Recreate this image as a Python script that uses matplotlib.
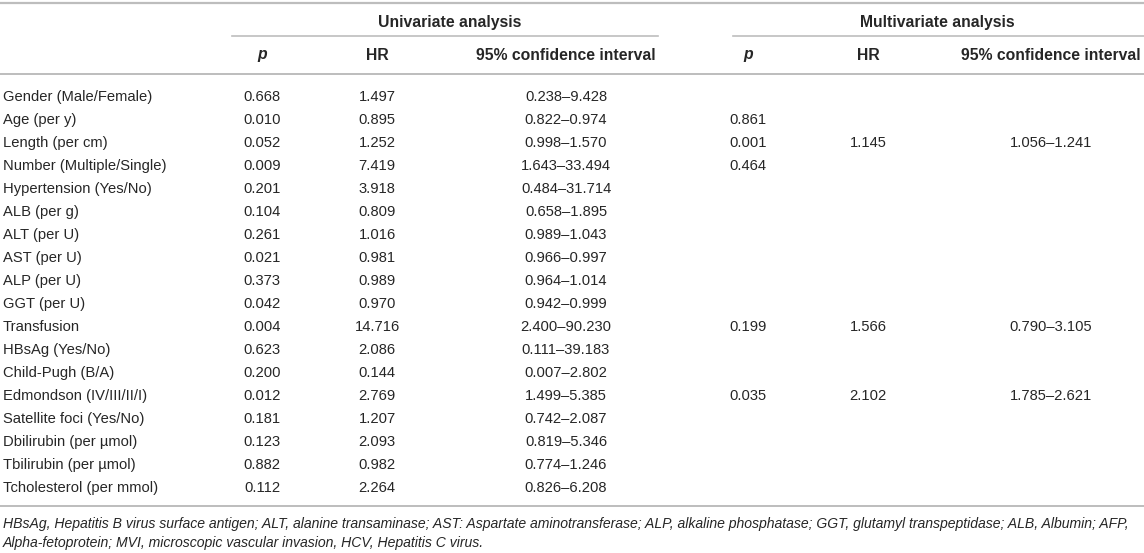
import matplotlib
matplotlib.use('Agg')
import matplotlib.pyplot as plt

labels = ['Gender (Male/Female)', 'Age (per y)', 'Length (per cm)', 'Number (Multiple/Single)',
          'Hypertension (Yes/No)', 'ALB (per g)', 'ALT (per U)', 'AST (per U)', 'ALP (per U)',
          'GGT (per U)', 'Transfusion', 'HBsAg (Yes/No)', 'Child-Pugh (B/A)',
          'Edmondson (IV/III/II/I)', 'Satellite foci (Yes/No)', 'Dbilirubin (per \u00b5mol)',
          'Tbilirubin (per \u00b5mol)', 'Tcholesterol (per mmol)']
uni_p = ['0.668', '0.010', '0.052', '0.009', '0.201', '0.104', '0.261', '0.021', '0.373',
         '0.042', '0.004', '0.623', '0.200', '0.012', '0.181', '0.123', '0.882', '0.112']
uni_hr = ['1.497', '0.895', '1.252', '7.419', '3.918', '0.809', '1.016', '0.981', '0.989',
          '0.970', '14.716', '2.086', '0.144', '2.769', '1.207', '2.093', '0.982', '2.264']
uni_ci = ['0.238\u20139.428', '0.822\u20130.974', '0.998\u20131.570', '1.643\u201333.494',
          '0.484\u201331.714', '0.658\u20131.895', '0.989\u20131.043', '0.966\u20130.997',
          '0.964\u20131.014', '0.942\u20130.999', '2.400\u201390.230', '0.111\u201339.183',
          '0.007\u20132.802', '1.499\u20135.385', '0.742\u20132.087', '0.819\u20135.346',
          '0.774\u20131.246', '0.826\u20136.208']
multi_p = ['', '0.861', '0.001', '0.464', '', '', '', '', '', '', '0.199', '', '', '0.035',
           '', '', '', '']
multi_hr = ['', '', '1.145', '', '', '', '', '', '', '', '1.566', '', '', '2.102',
            '', '', '', '']
multi_ci = ['', '', '1.056\u20131.241', '', '', '', '', '', '', '', '0.790\u20133.105', '', '',
            '1.785\u20132.621', '', '', '', '']
footnote = ['HBsAg, Hepatitis B virus surface antigen; ALT, alanine transaminase; AST: Aspartate '
            'aminotransferase; ALP, alkaline phosphatase; GGT, glutamyl transpeptidase; ALB, '
            'Albumin; AFP,',
            'Alpha-fetoprotein; MVI, microscopic vascular invasion, HCV, Hepatitis C virus.']

plt.rcParams['font.family'] = ['Liberation Sans', 'DejaVu Sans']
txt = '#262626'
rule = '#bdbdbd'
fs = 10.6
fs_head = 11.3

fig = plt.figure(figsize=(11.44, 5.53), dpi=100)
ax = fig.add_axes([0, 0, 1, 1])
ax.set_xlim(0, 1144)
ax.set_ylim(553, 0)
ax.axis('off')

# rules
ax.plot([0, 1144], [3, 3], color=rule, lw=1.6)
ax.plot([232, 658], [36, 36], color=rule, lw=1.2)
ax.plot([733, 1144], [36, 36], color=rule, lw=1.2)
ax.plot([0, 1144], [74, 74], color=rule, lw=1.4)
ax.plot([0, 1144], [506, 506], color=rule, lw=1.4)

# group headers
ax.text(450, 22, 'Univariate analysis', ha='center', va='center', fontsize=fs_head,
        fontweight='bold', color=txt)
ax.text(937, 22, 'Multivariate analysis', ha='center', va='center', fontsize=fs_head,
        fontweight='bold', color=txt)

cols = [262, 377, 566, 748, 868, 1051]
heads = ['p', 'HR', '95% confidence interval'] * 2
for x, h in zip(cols, heads):
    ax.text(x, 55, h, ha='center', va='center', fontsize=fs_head, fontweight='bold',
            style='italic' if h == 'p' else 'normal', color=txt)

y0, dy = 97, 23
for i, lab in enumerate(labels):
    y = y0 + i * dy
    ax.text(3, y, lab, ha='left', va='center', fontsize=fs, color=txt)
    row = [uni_p[i], uni_hr[i], uni_ci[i], multi_p[i], multi_hr[i], multi_ci[i]]
    for x, v in zip(cols, row):
        if v:
            ax.text(x, y, v, ha='center', va='center', fontsize=fs, color=txt)

for j, line in enumerate(footnote):
    ax.text(3, 524 + j * 19, line, ha='left', va='center', fontsize=10.05,
            style='italic', color=txt)

fig.savefig('out.png', dpi=100)
